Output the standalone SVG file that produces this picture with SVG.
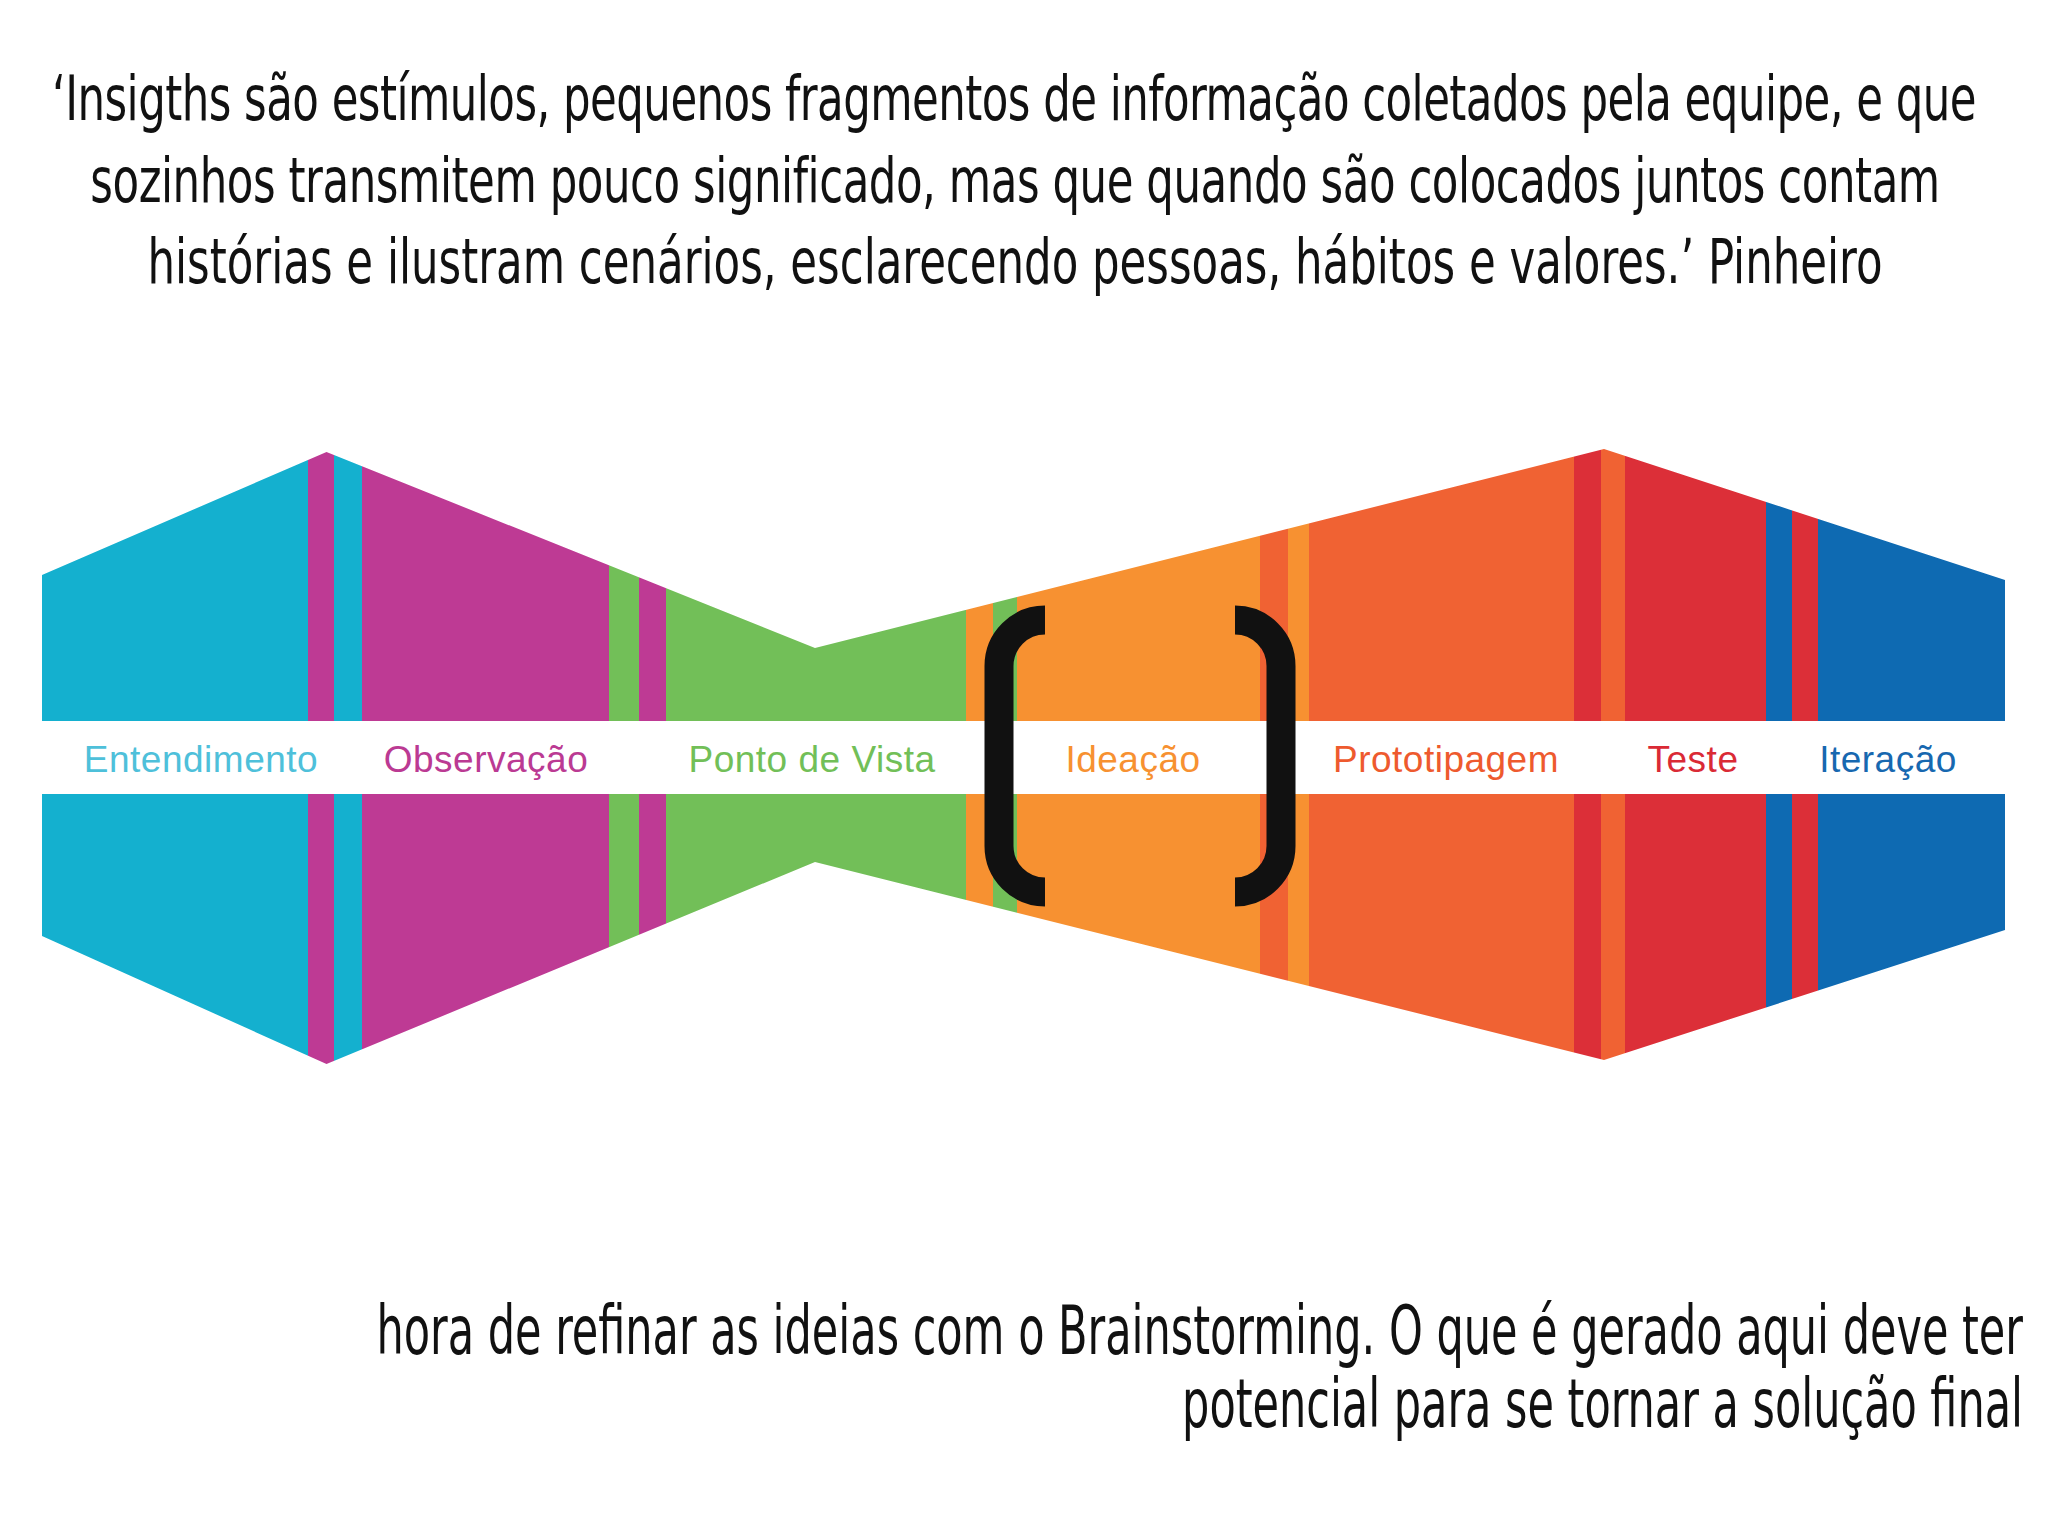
<svg xmlns="http://www.w3.org/2000/svg" width="2048" height="1536" viewBox="0 0 2048 1536">
<style>
.quote{font-family:"Liberation Sans Narrow","DejaVu Sans Condensed","Liberation Sans",sans-serif;font-size:48.3px;fill:#111;text-anchor:middle}
.note{font-family:"Liberation Sans Narrow","DejaVu Sans Condensed","Liberation Sans",sans-serif;font-size:47.8px;fill:#111;text-anchor:end}
.lbl{font-family:"Liberation Sans","Arial",sans-serif;font-size:37px;text-anchor:middle;letter-spacing:0.5px}
.cy{fill:#14B0CF}.mg{fill:#BE3A94}.gr{fill:#72BF58}.or{fill:#F79131}.ro{fill:#F06233}.rd{fill:#DC2F38}.bl{fill:#0E6AB2}
.br{fill:none;stroke:#111;stroke-width:29;stroke-linecap:butt}
</style>
<defs>
<clipPath id="bow">
<polygon points="42,575 326.5,452 815,648 1604,449 2005,580 2005,930 1604,1060 815,862 326.5,1064 42,936"/>
</clipPath>
</defs>
<rect width="2048" height="1536" fill="#fff"/>
<g id="quote" transform="scale(1,1.284)">
<text class="quote" x="1014" y="93.5" letter-spacing="-0.53">‘Insigths são estímulos, pequenos fragmentos de informação coletados pela equipe, e que</text>
<text class="quote" x="1015" y="157.3" letter-spacing="-0.44">sozinhos transmitem pouco significado, mas que quando são colocados juntos contam</text>
<text class="quote" x="1015" y="220.4">histórias e ilustram cenários, esclarecendo pessoas, hábitos e valores.’ Pinheiro</text>
</g>
<g id="bowtie" clip-path="url(#bow)">
<g id="entendimento">
<rect class="cy" x="40" y="400" width="268" height="700"/>
<rect class="mg" x="308" y="400" width="26" height="700"/>
<rect class="cy" x="334" y="400" width="28" height="700"/>
</g>
<g id="observacao">
<rect class="mg" x="362" y="400" width="247" height="700"/>
<rect class="gr" x="609" y="400" width="30" height="700"/>
<rect class="mg" x="639" y="400" width="27" height="700"/>
</g>
<g id="ponto-de-vista">
<rect class="gr" x="666" y="400" width="300" height="700"/>
<rect class="or" x="966" y="400" width="27" height="700"/>
<rect class="gr" x="993" y="400" width="24" height="700"/>
</g>
<g id="ideacao">
<rect class="or" x="1017" y="400" width="243" height="700"/>
<rect class="ro" x="1260" y="400" width="28" height="700"/>
<rect class="or" x="1288" y="400" width="21" height="700"/>
</g>
<g id="prototipagem">
<rect class="ro" x="1309" y="400" width="265" height="700"/>
<rect class="rd" x="1574" y="400" width="27" height="700"/>
<rect class="ro" x="1601" y="400" width="24" height="700"/>
</g>
<g id="teste">
<rect class="rd" x="1625" y="400" width="141" height="700"/>
<rect class="bl" x="1766" y="400" width="26" height="700"/>
<rect class="rd" x="1792" y="400" width="26" height="700"/>
</g>
<g id="iteracao">
<rect class="bl" x="1818" y="400" width="190" height="700"/>
</g>
<rect id="band" x="40" y="721" width="1970" height="73" fill="#fff"/>
</g>
<g id="labels">
<text class="lbl" x="201" y="772" fill="#4EC0DA">Entendimento</text>
<text class="lbl" x="486" y="772" fill="#BB3A93">Observação</text>
<text class="lbl" x="812" y="772" fill="#72BF58">Ponto de Vista</text>
<text class="lbl" x="1133" y="772" fill="#F79131">Ideação</text>
<text class="lbl" x="1446" y="772" fill="#EE5A2E">Prototipagem</text>
<text class="lbl" x="1693" y="772" fill="#DA2A35">Teste</text>
<text class="lbl" x="1888" y="772" fill="#1768B0">Iteração</text>
</g>
<g id="brackets">
<path class="br" d="M1045,620 A46,46 0 0 0 999,666 V846 A46,46 0 0 0 1045,892"/>
<path class="br" d="M1235,620 A46,46 0 0 1 1281,666 V846 A46,46 0 0 1 1235,892"/>
</g>
<g id="note" transform="scale(1,1.4)">
<text class="note" x="2023" y="967.1">hora de refinar as ideias com o Brainstorming. O que é gerado aqui deve ter</text>
<text class="note" x="2023" y="1019.3">potencial para se tornar a solução final</text>
</g>
</svg>
